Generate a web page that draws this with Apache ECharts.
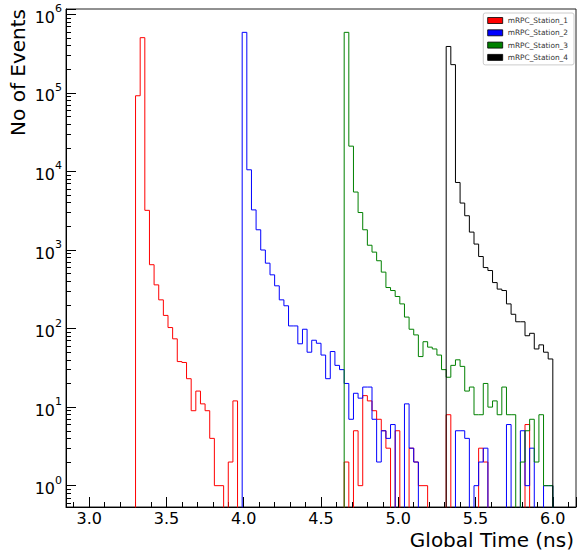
<!DOCTYPE html>
<html><head><meta charset="utf-8">
<script src="https://cdn.jsdelivr.net/npm/echarts@6/dist/echarts.min.js"></script>
<style>html,body{margin:0;padding:0;background:#fff}#c{width:577px;height:552px}</style>
</head><body><div id="c"></div>
<script>
// Histogram binning (ns)
const binStart = 2.85;
const binWidth = 0.03;
const nBins = 110;
const seriesNames = ['mRPC_Station_1', 'mRPC_Station_2', 'mRPC_Station_3', 'mRPC_Station_4'];
const seriesColors = ['#ff0000', '#0000ff', '#008000', '#000000'];
const yTickValues = [1, 10, 100, 1000, 10000, 100000, 1000000];
const xTitle = 'Global Time (ns)';
const yTitle = 'No of Events';

// Counts per bin, listed from the first bin number given (bin k starts at 2.85 + 0.03 k)
const station1First = 15; // 3.30 ns
const station1Counts = [
  92000, 505000, 3200, 650, 360, 232, 147, 103, 74, 38,   // 3.30 - 3.57
  37, 23, 9, 16, 11, 9, 4, 1, 1, 0,                       // 3.60 - 3.87
  2, 12, 0, 0, 0, 0, 0, 0, 0, 0,                          // 3.90 - 4.17
  0, 0, 0, 0, 0, 0, 0, 0, 0, 0,                           // 4.20 - 4.47
  0, 0, 0, 0, 0, 2, 0, 5, 1, 14,                          // 4.50 - 4.77
  12, 9, 7, 5, 3, 0, 5, 0, 0, 3,                          // 4.80 - 5.07
  2, 1, 1, 0, 0, 0, 0, 8, 0, 0,                           // 5.10 - 5.37
  0, 0, 0, 0, 3, 2, 0, 0, 0, 0,                           // 5.40 - 5.67
  0, 0, 0, 0, 6, 0, 0, 0, 0, 0                            // 5.70 - 5.97
];
const station2First = 38; // 3.99 ns
const station2Counts = [
  590000, 10500, 3240, 1810, 1000, 680, 483, 350, 232, 195, // 3.99 - 4.26
  108, 108, 64, 98, 50, 71, 65, 46, 23, 51,                 // 4.29 - 4.56
  34, 30, 20, 7, 15, 13, 18, 18, 7, 2,                      // 4.59 - 4.86
  5, 4, 6, 0, 0, 11, 3, 2, 0, 0,                            // 4.89 - 5.16
  0, 0, 0, 0, 0, 0, 5, 5, 4, 0,                             // 5.19 - 5.46
  1, 2, 3, 0, 0, 0, 0, 6, 0, 0,                             // 5.49 - 5.76
  5, 1, 3, 0, 0, 1, 1                                       // 5.79 - 5.97
];
const station3First = 60; // 4.65 ns
const station3Counts = [
  590000, 21000, 5470, 3000, 1810, 1150, 940, 730, 523, 333, // 4.65 - 4.92
  305, 256, 206, 140, 98, 83, 44, 68, 58, 55,                // 4.95 - 5.22
  46, 30, 24, 34, 40, 33, 16, 18, 8, 8,                      // 5.25 - 5.52
  20, 10, 12, 8, 18, 8, 8, 0, 2, 5,                          // 5.55 - 5.82
  7, 2, 8, 1, 1                                              // 5.85 - 5.97
];
const station4First = 82; // 5.31 ns
const station4Counts = [
  390000, 229000, 7240, 3960, 2730, 1690, 1190, 826, 598, 548, // 5.31 - 5.58
  385, 318, 305, 206, 152, 122, 122, 81, 87, 55,               // 5.61 - 5.88
  62, 50, 41                                                   // 5.91 - 5.97
];

const firstBins = [station1First, station2First, station3First, station4First];
const countLists = [station1Counts, station2Counts, station3Counts, station4Counts];

const plotFloor = 1e-3; // empty bins fall below the visible range
function buildSteps(first, counts) {
  const pts = [];
  for (let i = 0; i < nBins; i++) {
    const k = i - first;
    const c = (k >= 0 && k < counts.length) ? counts[k] : 0;
    pts.push([+(binStart + i * binWidth).toFixed(4), c > 0 ? c : plotFloor]);
  }
  pts.push([+(binStart + nBins * binWidth).toFixed(4), pts[pts.length - 1][1]]);
  return pts;
}

const FONT = 'DejaVu Sans';
const chart = echarts.init(document.getElementById('c'), null, {renderer: 'svg'});
chart.setOption({
  animation: false,
  backgroundColor: '#fff',
  grid: {left: 66, right: 1, top: 9, bottom: 45, show: true, borderColor: '#222', borderWidth: 1, backgroundColor: 'transparent', containLabel: false, outerBoundsMode: 'none'},
  legend: {
    orient: 'vertical', right: 3, top: 13, icon: 'rect', itemWidth: 15, itemHeight: 6, itemGap: 3.3,
    padding: [3, 6, 3, 4], borderColor: '#cccccc', borderWidth: 1, borderRadius: 2, backgroundColor: '#fff',
    itemStyle: {borderColor: '#000', borderWidth: 0.8},
    textStyle: {fontFamily: FONT, fontSize: 7.4, color: '#333', lineHeight: 9},
    data: seriesNames
  },
  graphic: [{
    type: 'text', x: 574, y: 540, z: 10,
    style: {text: xTitle, fontFamily: FONT, fontSize: 20, fill: '#000', align: 'right', verticalAlign: 'middle'}
  }],
  xAxis: {
    type: 'value', min: binStart, max: +(binStart + nBins * binWidth).toFixed(4),
    axisLine: {show: true, onZero: false, lineStyle: {color: '#000', width: 1}},
    axisTick: {show: true, inside: true, length: 10, lineStyle: {color: '#000', width: 1}},
    minorTick: {show: true, splitNumber: 5, length: 5, lineStyle: {color: '#000', width: 1}},
    splitLine: {show: false}, minorSplitLine: {show: false},
    axisLabel: {fontFamily: FONT, fontSize: 16, color: '#000', margin: 3, lineHeight: 16, showMinLabel: false, showMaxLabel: false,
      formatter: v => v.toFixed(1)}
  },
  yAxis: {
    type: 'log', logBase: 10, min: 0.535, max: 1170000,
    name: yTitle, nameLocation: 'end', nameGap: 0, nameRotate: 90,
    nameTextStyle: {fontFamily: FONT, fontSize: 20, color: '#000', align: 'right', verticalAlign: 'bottom', padding: [0, 0, 38, 0]},
    axisLine: {show: true, lineStyle: {color: '#000', width: 1}},
    axisTick: {show: true, inside: true, length: 10, lineStyle: {color: '#000', width: 1}},
    minorTick: {show: true, splitNumber: 9, length: 5, lineStyle: {color: '#000', width: 1}},
    splitLine: {show: false}, minorSplitLine: {show: false},
    axisLabel: {
      margin: 4, showMinLabel: false, showMaxLabel: false,
      formatter: v => {
        const e = Math.round(Math.log10(v));
        return yTickValues.indexOf(Math.pow(10, e)) >= 0 && Math.abs(v - Math.pow(10, e)) < 1e-6 * v ? '{b|10}{s|' + e + '}' : '';
      },
      rich: {
        b: {fontFamily: FONT, fontSize: 16, color: '#000', lineHeight: 22, verticalAlign: 'bottom'},
        s: {fontFamily: FONT, fontSize: 11, color: '#000', lineHeight: 22, verticalAlign: 'top'}
      }
    }
  },
  series: seriesNames.map((name, s) => ({
    name: name, type: 'line', step: 'end', symbol: 'none', showSymbol: false, clip: true,
    color: seriesColors[s],
    lineStyle: {color: seriesColors[s], width: 1},
    itemStyle: {color: seriesColors[s]},
    data: buildSteps(firstBins[s], countLists[s])
  }))
});
</script></body></html>
